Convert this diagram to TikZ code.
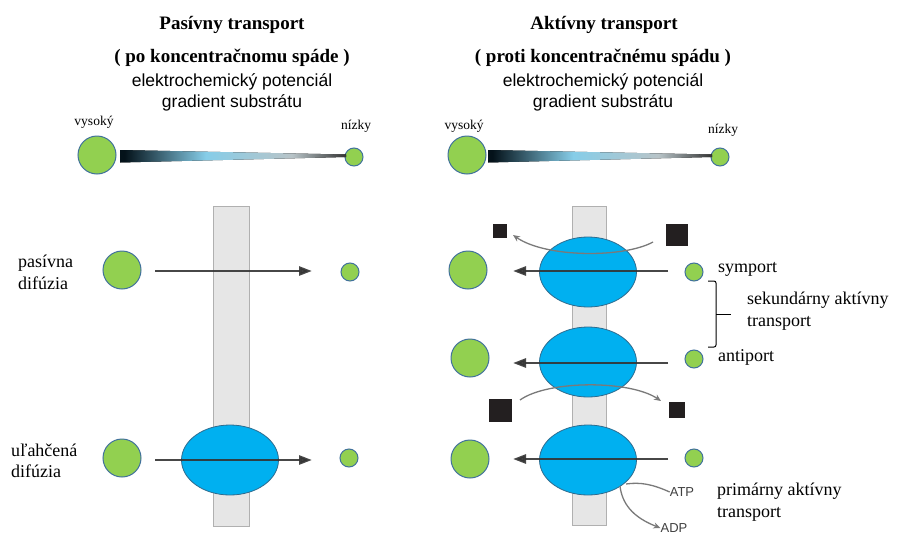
\documentclass[tikz,border=0pt]{standalone}
\usepackage{fontspec}
\setmainfont{Liberation Serif}
\setsansfont{Liberation Sans}
\usetikzlibrary{arrows.meta,shapes.geometric}
\definecolor{cgreen}{HTML}{92D050}
\definecolor{cedge}{HTML}{41719C}
\definecolor{cblue}{HTML}{00B0F0}
\definecolor{cblueedge}{HTML}{2F6C8F}
\definecolor{cmem}{HTML}{E6E6E6}
\definecolor{cmemedge}{HTML}{B0B0B0}
\definecolor{carrow}{HTML}{333333}
\definecolor{csq}{HTML}{231F20}
\definecolor{carc}{HTML}{7A7A7A}
\definecolor{gA}{HTML}{04121A}
\definecolor{gB}{HTML}{86CDE8}
\definecolor{gC}{HTML}{B8C4C8}
\definecolor{gD}{HTML}{333333}
\pgfdeclarehorizontalshading{gradbar}{100bp}{color(0bp)=(gA); color(26bp)=(gA); color(44bp)=(gB); color(63bp)=(gC); color(75bp)=(gD); color(100bp)=(gD)}
\tikzset{
  big/.style={circle,fill=cgreen,draw=cedge,line width=1pt,minimum size=38pt,inner sep=0pt},
  small/.style={circle,fill=cgreen,draw=cedge,line width=1pt,minimum size=18pt,inner sep=0pt},
  mem/.style={fill=cmem,draw=cmemedge,line width=0.8pt},
  prot/.style={ellipse,fill=cblue,draw=cblueedge,line width=0.8pt,minimum width=97pt,minimum height=70pt,inner sep=0pt},
  arr/.style={draw=carrow,line width=2.6pt,-{Triangle[length=13pt,width=9pt]},opacity=0.9},
  curv/.style={draw=carc,line width=1.3pt,-{Stealth[length=7pt,width=6pt]}},
  curvl/.style={draw=carc,line width=1.3pt},
  sq/.style={fill=csq,inner sep=0pt},
  ttl/.style={font=\fontsize{19}{22}\selectfont\bfseries},
  sub/.style={font=\sffamily\fontsize{17.5}{21}\selectfont},
  lbl/.style={font=\fontsize{18}{21.5}\selectfont,align=left,anchor=west,inner sep=0pt},
  tiny/.style={font=\fontsize{13.5}{15}\selectfont,inner sep=0pt},
  tinysf/.style={font=\sffamily\fontsize{13}{15}\selectfont,inner sep=0pt,text=black!75},
}
\begin{document}
\begin{tikzpicture}[x=1pt,y=-1pt]
\useasboundingbox (0,0) rectangle (898,536);
\clip (0,0) rectangle (898,536);
\fill[white] (0,0) rectangle (898,536);

% ---------- headings ----------
\node[ttl] (t1) at (232,25) {Pasívny transport};
\node[ttl] (t2) at (232,58) {( po koncentračnomu spáde )};
\node[sub] (t3) at (232,82) {elektrochemický potenciál};
\node[sub] (t4) at (232,103) {gradient substrátu};
\node[ttl] (r1) at (604,25) {Aktívny transport};
\node[ttl] (r2) at (603,58) {( proti koncentračnému spádu )};
\node[sub] (r3) at (603,82) {elektrochemický potenciál};
\node[sub] (r4) at (603,103) {gradient substrátu};

% ---------- gradient scales ----------
\node[tiny] (hv1) at (94,122) {vysoký};
\node[tiny] (lw1) at (356,126) {nízky};
\node[big] (gb1) at (97,155) {};
\node[small] (gs1) at (354,157) {};
\fill[shading=gradbar] (120,150) -- (120,162.5) -- (346,157) -- (346,154.5) -- cycle;

\node[tiny] (hv2) at (464,126) {vysoký};
\node[tiny] (lw2) at (723,130) {nízky};
\node[big] (gb2) at (467,155) {};
\node[small] (gs2) at (720,157) {};
\fill[shading=gradbar] (488,150) -- (488,162.5) -- (712,157) -- (712,154.5) -- cycle;

% ---------- membranes ----------
\draw[mem] (213,206) rectangle (249,526);
\draw[mem] (572,206) rectangle (606,525);

% ---------- proteins ----------
\node[prot] (e0) at (230,460) {};
\node[prot] (e1) at (588,272) {};
\node[prot] (e2) at (588,362) {};
\node[prot] (e3) at (588,460) {};

% ---------- passive side ----------
\node[lbl] (l1) at (18,272.5) {pasívna\\difúzia};
\node[big] (pb1) at (122,270) {};
\node[small] (ps1) at (350,272) {};
\coordinate (pa1) at (155,271);
\coordinate (pa2) at (312,271);
\draw[arr] (pa1) -- (pa2);

\node[lbl] (l2) at (11,461) {uľahčená\\difúzia};
\node[big] (pb2) at (122,458) {};
\node[small] (ps2) at (349,458) {};
\coordinate (pc1) at (155,460);
\coordinate (pc2) at (312,460);
\draw[arr] (pc1) -- (pc2);

% ---------- active side: co-transported squares ----------
\node[sq,minimum size=14pt] (q1) at (500,231) {};
\node[sq,minimum size=22pt] (q2) at (677,235) {};
\coordinate (qa1) at (653,242);
\coordinate (qa2) at (513,235);
\draw[curv] (qa1) .. controls (624,258) and (546,258) .. (qa2);

\node[sq,minimum size=23pt] (q3) at (500,410) {};
\node[sq,minimum size=16pt] (q4) at (677,410) {};
\coordinate (qb1) at (520,400);
\coordinate (qb2) at (661,401);
\draw[curv] (qb1) .. controls (548,380) and (630,380) .. (qb2);

% ---------- active side: substrate rows ----------
\node[big] (ab1) at (468,270) {};
\node[small] (as1) at (694,272) {};
\coordinate (aa1) at (668,271);
\coordinate (aa2) at (513,271);
\draw[arr] (aa1) -- (aa2);
\node[lbl] (sym) at (718,269) {symport};

\node[big] (ab2) at (470,358) {};
\node[small] (as2) at (694,359) {};
\coordinate (ab1c) at (668,363);
\coordinate (ab2c) at (513,363);
\draw[arr] (ab1c) -- (ab2c);
\node[lbl] (anti) at (718,357) {antiport};

\node[big] (ab3) at (470,459) {};
\node[small] (as3) at (694,458) {};
\coordinate (ac1) at (668,459);
\coordinate (ac2) at (513,459);
\draw[arr] (ac1) -- (ac2);

% ---------- bracket ----------
\coordinate (bk1) at (708,281);
\coordinate (bk2) at (708,347);
\coordinate (bkm) at (716,314);
\coordinate (bkt) at (731,314);
\draw[line width=1pt,rounded corners=2pt] (bk1) -- (716,281) -- (716,347) -- (bk2);
\draw[line width=1pt] (bkm) -- (bkt);
\node[lbl] (sek) at (747,311) {sekundárny aktívny\\transport};

% ---------- ATP / ADP ----------
\node[tinysf] (atp) at (682,492) {ATP};
\node[tinysf] (adp) at (674,528) {ADP};
\coordinate (at0) at (626,484);
\draw[curvl] (at0) .. controls (640,482) and (652,484) .. (atp.west);
\coordinate (ad0) at (620,486);
\draw[curv] (ad0) .. controls (622,503) and (632,517) .. (adp.west);
\node[lbl] (prim) at (717,502) {primárny aktívny\\transport};
\end{tikzpicture}
\end{document}
